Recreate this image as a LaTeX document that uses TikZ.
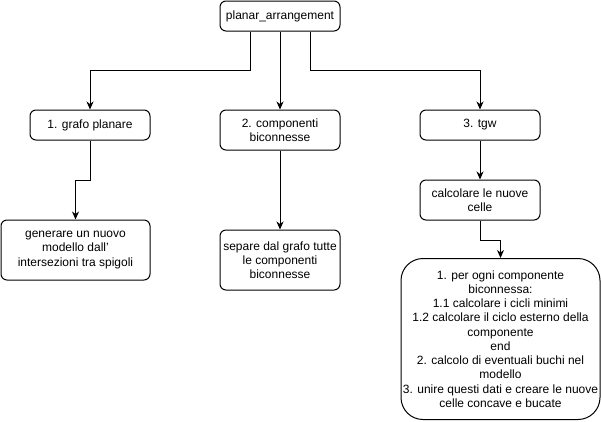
\documentclass[tikz,border=0pt]{standalone}
\usepackage{fontspec}
\setmainfont{Liberation Sans}
\usetikzlibrary{arrows.meta}
\begin{document}
\begin{tikzpicture}[x=1pt,y=-1pt,
  box/.style={draw,line width=1pt,rounded corners=6pt,align=center,inner sep=1pt,
    font=\fontsize{12}{14.2}\selectfont},
  arr/.style={line width=1pt,-{Stealth[length=8pt,width=7pt,inset=2.5pt]}}]
\useasboundingbox (0,0) rectangle (601,421);
\node[box,minimum width=120pt,minimum height=30pt] (top) at (280,16) {planar\_arrangement};
\node[box,minimum width=120pt,minimum height=30pt] (grafo) at (90,125) {1. grafo planare};
\node[box,minimum width=120pt,minimum height=40pt] (comp) at (280,130) {2. componenti\\biconnesse};
\node[box,minimum width=120pt,minimum height=30pt] (tgw) at (480,125) {3. tgw};
\node[box,minimum width=120pt,minimum height=40pt] (celle) at (480,200) {calcolare le nuove\\celle};
\node[box,minimum width=149pt,minimum height=60pt] (gen) at (75.5,250) {generare un nuovo\\modello dall'\\intersezioni tra spigoli};
\node[box,minimum width=120pt,minimum height=60pt] (sep) at (280,260) {separe dal grafo tutte\\le componenti\\biconnesse};
\node[box,rounded corners=22pt,minimum width=199pt,minimum height=161pt] (big) at (500.5,339) {1. per ogni componente\\biconnessa:\\1.1 calcolare i cicli minimi\\1.2 calcolare il ciclo esterno della\\componente\\end\\2. calcolo di eventuali buchi nel\\modello\\3. unire questi dati e creare le nuove\\celle concave e bucate};
\draw[arr] ([xshift=-30pt]top.south) -- ++(0,39) -| (grafo.north);
\draw[arr] (top.south) -- (comp.north);
\draw[arr] ([xshift=30pt]top.south) -- ++(0,39) -| (tgw.north);
\draw[arr] (grafo.south) -- ++(0,40) -| (gen.north);
\draw[arr] (comp.south) -- (sep.north);
\draw[arr] (tgw.south) -- (celle.north);
\draw[arr] (celle.south) -- ++(0,20) -| (big.north);
\end{tikzpicture}
\end{document}
